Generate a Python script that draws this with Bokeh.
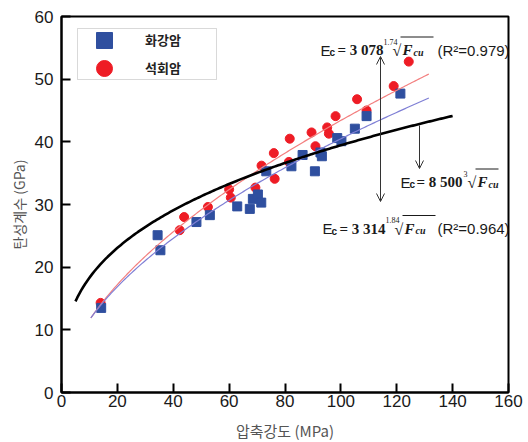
import numpy as np
from bokeh.plotting import figure
from bokeh.models import (Range1d, Label, Arrow, OpenHead, Legend, LegendItem, FixedTicker,
                          BoxAnnotation)
from bokeh.embed import file_html
from bokeh.resources import INLINE

# ---- data ----
granite_x = [14.2, 34.4, 35.4, 48.3, 53.1, 62.9, 67.4, 68.5, 70.3, 71.5, 73.3,
             82.3, 86.3, 90.7, 92.7, 93.2, 98.7, 100.2, 105.0, 109.2, 121.3]
granite_y = [13.5, 25.1, 22.7, 27.2, 28.3, 29.7, 29.3, 30.9, 31.6, 30.3, 35.3,
             36.1, 37.9, 35.3, 38.3, 37.7, 40.6, 40.1, 42.1, 44.1, 47.7]
limestone_x = [14.0, 42.3, 43.9, 52.4, 60.0, 60.6, 69.4, 71.6, 76.0, 76.3, 81.4,
               81.7, 89.5, 90.9, 95.1, 95.7, 98.1, 105.8, 109.2, 118.9, 124.3]
limestone_y = [14.3, 25.9, 28.0, 29.6, 32.4, 31.1, 32.7, 36.2, 38.2, 34.1, 36.8,
               40.5, 41.5, 39.3, 42.3, 41.3, 44.1, 46.8, 45.0, 48.9, 52.8]

# model equations shown on the chart (E in GPa, F in MPa)
lime_coef, lime_root = 3.078, 1.74
gran_coef, gran_root = 3.314, 1.84
code_coef, code_root = 8.5, 3.0
fit_range = (10.5, 131.5)
code_range = (5.0, 140.0)

x_ticks = [0, 20, 40, 60, 80, 100, 120, 140, 160]
y_ticks = [0, 10, 20, 30, 40, 50, 60]

FW, FH = 447, 376
FL, FT = 61, 16   # frame left / top on the page
p = figure(frame_width=FW, frame_height=FH, x_range=Range1d(0, 160), y_range=Range1d(0, 60),
           output_backend="svg", toolbar_location=None,
           min_border_left=FL, min_border_right=20, min_border_top=FT, min_border_bottom=50)
p.background_fill_color = "white"
p.border_fill_color = "white"
p.xgrid.visible = False
p.ygrid.visible = False
p.outline_line_color = "black"
p.outline_line_width = 2

for ax, ticks in ((p.xaxis, x_ticks), (p.yaxis, y_ticks)):
    ax.ticker = FixedTicker(ticks=ticks)
    ax.axis_line_width = 2
    ax.axis_line_color = "black"
    ax.major_tick_line_width = 2
    ax.major_tick_line_color = "black"
    ax.major_tick_in = 9
    ax.major_tick_out = 0
    ax.minor_tick_line_color = None
    ax.major_label_text_font = "Liberation Sans"
    ax.major_label_text_font_size = "17px"
    ax.major_label_text_color = "#1a1a1a"
    ax.axis_label_text_font = "Noto Sans CJK KR"
    ax.axis_label_text_font_style = "normal"
    ax.axis_label_text_color = "#555555"

p.xaxis.axis_label = "압축강도 (MPa)"
p.yaxis.axis_label = "탄성계수 (GPa)"
p.xaxis.axis_label_text_font_size = "15px"
p.yaxis.axis_label_text_font_size = "14px"
p.yaxis.major_label_standoff = 8
p.xaxis.major_label_standoff = 2
p.yaxis.axis_label_standoff = 3
p.xaxis.axis_label_standoff = 10

# curves
xf = np.linspace(fit_range[0], fit_range[1], 200)
xc = np.linspace(code_range[0], code_range[1], 200)

ci = p.scatter(limestone_x, limestone_y, marker="circle", size=9,
               fill_color="#ee1c25", line_color="#ee1c25")
sq = p.scatter(granite_x, granite_y, marker="square", size=9,
               fill_color="#2f4f9f", line_color="#2f4f9f")
p.line(xf, lime_coef * xf ** (1 / lime_root), line_color="#f37f7f", line_width=1.2)
p.line(xf, gran_coef * xf ** (1 / gran_root), line_color="#7f7fd5", line_width=1.2)
p.line(xc, code_coef * xc ** (1 / code_root), line_color="black", line_width=2.6)

# ---- helpers: page pixel -> data ----
def dx(px):
    return (px - FL) * 160 / FW

def dy(py):
    return (FT + FH - py) * 60 / FH

# legend frame
p.add_layout(BoxAnnotation(left=dx(77), right=dx(216), top=dy(28), bottom=dy(79),
                           fill_color="white", fill_alpha=1,
                           line_color="#808080", line_width=1))

def legend_row(label, renderer, center_py):
    lg = Legend(items=[LegendItem(label=label, renderers=[renderer])],
                location=(84 - FL, FT + FH - (center_py + 20)), padding=0, spacing=0,
                glyph_width=40, glyph_height=40, label_height=40,
                label_standoff=21, label_width=60,
                border_line_color=None, background_fill_alpha=0,
                label_text_font="Noto Sans CJK KR", label_text_font_style="bold",
                label_text_font_size="13px", label_text_color="#222222")
    p.add_layout(lg)

legend_row("화강암", sq, 39.5)
legend_row("석회암", ci, 67.5)

# ---- annotations (placed by page-pixel position) ----
def lab(px, py, text, size, font="Liberation Sans", style="normal"):
    p.add_layout(Label(x=dx(px), y=dy(py), text=text, text_font=font,
                       text_font_size=f"{size}px", text_font_style=style,
                       text_color="#1a1a1a", text_baseline="alphabetic",
                       text_align="left"))

def seg(x0, x1, py):
    p.add_layout(Arrow(start=None, end=None, x_start=dx(x0), y_start=dy(py),
                       x_end=dx(x1), y_end=dy(py), line_color="#1a1a1a", line_width=1))

def equation(x0, base, coef, idx, r2=None):
    lab(x0, base, "E", 15)
    lab(x0 + 9, base + 2.5, "c", 10, style="bold")
    lab(x0 + 17, base, "= " + coef, 15, font="Liberation Serif", style="bold")
    xs = x0 + 63
    lab(xs, base - 8.5, idx, 8, font="Liberation Serif")
    xr = xs + 9
    lab(xr, base + 0.5, "√", 16, font="Liberation Serif")
    seg(xr + 8, xr + 41, base - 13)
    lab(xr + 10, base, "F", 15, font="Liberation Serif", style="bold italic")
    lab(xr + 21, base + 2, "cu", 10, font="Liberation Serif", style="bold italic")
    if r2:
        lab(437, base, "(R²=" + r2 + ")", 15)

equation(320, 49.5, "3 078", "1.74", "0.979")
equation(322, 228, "3 314", "1.84", "0.964")
lab(400, 181.5, "E", 15)
lab(409, 184, "c", 10, style="bold")
lab(416, 181.5, "= 8 500", 15, font="Liberation Serif", style="bold")
lab(463, 173, "3", 8, font="Liberation Serif")
lab(467, 182, "√", 16, font="Liberation Serif")
seg(475, 498, 168.5)
lab(477, 181.5, "F", 15, font="Liberation Serif", style="bold italic")
lab(488, 183.5, "cu", 10, font="Liberation Serif", style="bold italic")

# arrows
p.add_layout(Arrow(start=OpenHead(size=8, line_color="#333333", line_width=1),
                   end=OpenHead(size=8, line_color="#333333", line_width=1),
                   x_start=dx(380), y_start=dy(201), x_end=dx(380), y_end=dy(56),
                   line_color="#333333", line_width=1))
p.add_layout(Arrow(end=OpenHead(size=8, line_color="#333333", line_width=1),
                   x_start=dx(419), y_start=dy(125), x_end=dx(419), y_end=dy(168),
                   line_color="#333333", line_width=1))

open("out.html", "w").write(file_html(p, INLINE))
